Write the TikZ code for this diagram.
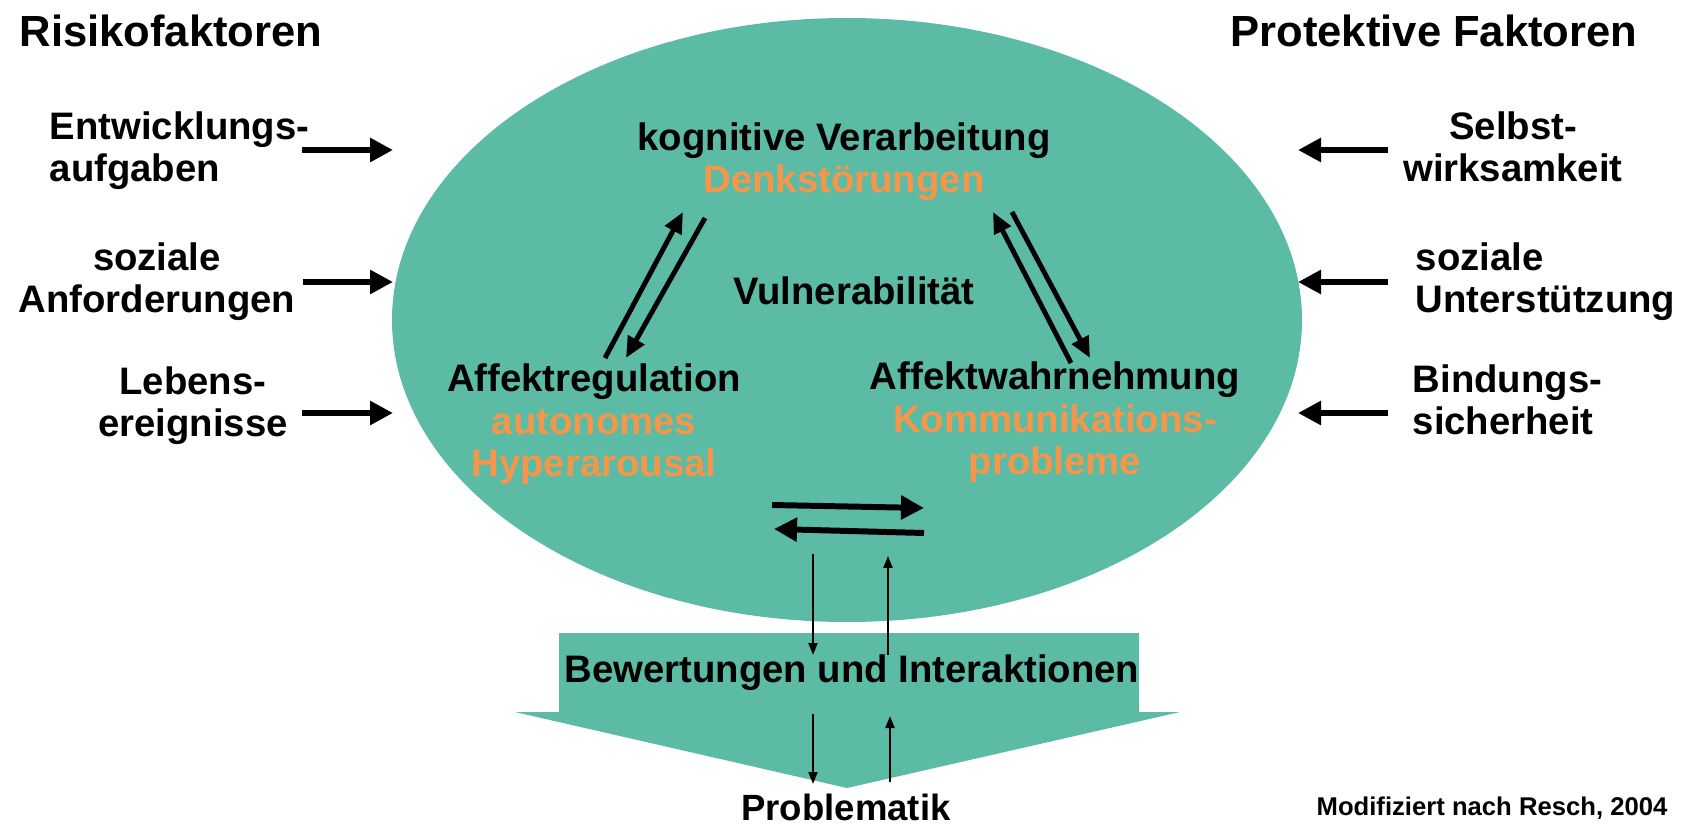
\documentclass[tikz,border=0pt]{standalone}
\usepackage{fontspec}
\setmainfont{Liberation Sans}
\usepackage{tikz}
\usetikzlibrary{arrows.meta}
\usepackage{xcolor}
\definecolor{kern}{RGB}{91,187,165}
\definecolor{stoer}{RGB}{245,150,75}

\begin{document}
\begin{tikzpicture}[>={Triangle},
  title/.style={font=\fontsize{12.4}{14}\selectfont\bfseries, inner sep=0pt},
  factor/.style={font=\fontsize{10.9}{12.2}\selectfont\bfseries, inner sep=0pt},
  bigarr/.style={-{Triangle[length=0.23cm,width=0.23cm]}, line width=1.7pt},
  midarr/.style={-{Triangle[length=0.21cm,width=0.18cm]}, line width=1.4pt},
  thinarr/.style={-{Triangle[length=0.12cm,width=0.09cm]}, line width=0.6pt}]
  \useasboundingbox (0,0) rectangle (16.88,8.28);

  % Kreis der Vulnerabilitaet und Pfeil nach unten
  \fill[kern] (8.47,5.08) ellipse [x radius=4.55, y radius=3.02];
  \fill[kern] (5.59,1.95) -- (11.39,1.95) -- (11.39,1.16) -- (11.80,1.16)
    -- (8.47,0.40) -- (5.15,1.16) -- (5.59,1.16) -- cycle;

  \node[title, anchor=base] (risk) at (1.71,7.81) {Risikofaktoren};
  \node[title, anchor=base] (prot) at (14.34,7.81) {Protektive Faktoren};

  \node[factor, anchor=base west, align=left] (entw) at (0.49,6.46) {Entwicklungs-\\aufgaben};
  \node[factor, anchor=base, align=center] (sozA) at (1.57,5.15) {soziale\\Anforderungen};
  \node[factor, anchor=base, align=center] (leb) at (1.93,3.91) {Lebens-\\ereignisse};
  \node[factor, anchor=base, align=center] (selbst) at (15.13,6.46) {Selbst-\\wirksamkeit};
  \node[factor, anchor=base west, align=left] (sozU) at (14.15,5.15) {soziale\\Unterstützung};
  \node[factor, anchor=base west, align=left] (bind) at (14.12,3.93) {Bindungs-\\sicherheit};

  \coordinate (l1a) at (3.02,6.78); \coordinate (l1b) at (3.93,6.78);
  \coordinate (l2a) at (3.03,5.46); \coordinate (l2b) at (3.93,5.46);
  \coordinate (l3a) at (3.02,4.15); \coordinate (l3b) at (3.93,4.15);
  \coordinate (r1a) at (13.88,6.78); \coordinate (r1b) at (12.98,6.78);
  \coordinate (r2a) at (13.88,5.46); \coordinate (r2b) at (12.98,5.46);
  \coordinate (r3a) at (13.88,4.15); \coordinate (r3b) at (12.98,4.15);
  \foreach \a/\b in {l1a/l1b, l2a/l2b, l3a/l3b, r1a/r1b, r2a/r2b, r3a/r3b}
    \draw[bigarr] (\a) -- (\b);

  \node[factor, anchor=base, align=center] (kog) at (8.44,6.35)
    {kognitive Verarbeitung\\\textcolor{stoer}{Denkstörungen}};
  \node[factor, anchor=base] (vuln) at (8.54,5.23) {Vulnerabilität};
  \node[factor, anchor=base, align=center] (areg) at (5.94,3.51)
    {Affektregulation\\\textcolor{stoer}{autonomes}\\\textcolor{stoer}{Hyperarousal}};
  \node[factor, anchor=base, align=center] (awahr) at (10.55,3.53)
    {Affektwahrnehmung\\\textcolor{stoer}{Kommunikations-}\\\textcolor{stoer}{probleme}};

  % Wechselwirkungen im Dreieck
  \coordinate (lu1) at (6.05,4.70); \coordinate (lu2) at (6.83,6.16);
  \coordinate (ld1) at (7.05,6.10); \coordinate (ld2) at (6.26,4.70);
  \coordinate (ru1) at (10.71,4.65); \coordinate (ru2) at (9.93,6.16);
  \coordinate (rd1) at (10.12,6.16); \coordinate (rd2) at (10.90,4.70);
  \draw[midarr] (lu1) -- (lu2);
  \draw[midarr] (ld1) -- (ld2);
  \draw[midarr] (ru1) -- (ru2);
  \draw[midarr] (rd1) -- (rd2);

  \coordinate (h1a) at (7.72,3.23); \coordinate (h1b) at (9.24,3.20);
  \coordinate (h2a) at (9.24,2.95); \coordinate (h2b) at (7.74,2.99);
  \draw[bigarr] (h1a) -- (h1b);
  \draw[bigarr] (h2a) -- (h2b);

  \node[factor, anchor=base] (bew) at (8.52,1.46) {Bewertungen und Interaktionen};
  \node[font=\fontsize{10.4}{12}\selectfont\bfseries, inner sep=0pt, anchor=base] (probl) at (8.46,0.08) {Problematik};
  \node[font=\fontsize{7.3}{9}\selectfont\bfseries, inner sep=0pt, anchor=base] (quelle) at (14.92,0.13) {Modifiziert nach Resch, 2004};

  \coordinate (v1a) at (8.13,2.74); \coordinate (v1b) at (8.13,1.73);
  \coordinate (v2a) at (8.88,1.73); \coordinate (v2b) at (8.88,2.72);
  \coordinate (v3a) at (8.13,1.14); \coordinate (v3b) at (8.13,0.44);
  \coordinate (v4a) at (8.90,0.46); \coordinate (v4b) at (8.90,1.12);
  \foreach \a/\b in {v1a/v1b, v2a/v2b, v3a/v3b, v4a/v4b}
    \draw[thinarr] (\a) -- (\b);
\end{tikzpicture}
\end{document}
